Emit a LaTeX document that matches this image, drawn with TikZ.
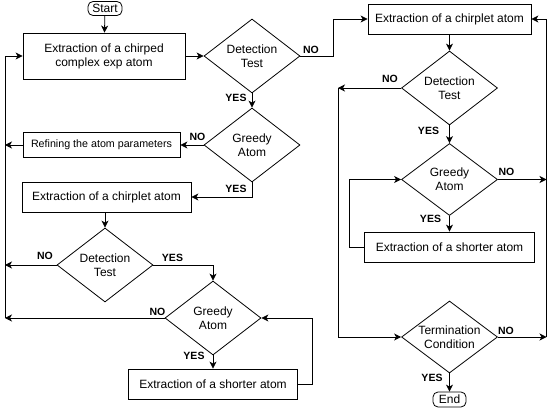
\documentclass[tikz,border=0pt]{standalone}
\usepackage{fontspec}
\setmainfont{Liberation Sans}
\usetikzlibrary{shapes.geometric,arrows.meta}

\begin{document}
\begin{tikzpicture}[x=1pt, y=-1pt, line width=0.8pt,
    procbox/.style={draw, rectangle, align=center, inner sep=0pt, minimum height=30pt, font=\fontsize{12}{14}\selectfont},
    testdiamond/.style={draw, diamond, aspect=1.3, inner sep=0pt, align=center, minimum width=96pt, minimum height=74pt, font=\fontsize{12}{14}\selectfont},
    terminal/.style={draw, rounded corners=5pt, inner sep=0pt, minimum height=14pt, minimum width=34pt, font=\fontsize{12}{14}\selectfont},
    answer/.style={inner sep=0pt, font=\fontsize{10.5}{12}\selectfont\bfseries},
    flow/.style={-{Stealth[length=7pt,width=7pt,inset=2pt]}}]
\useasboundingbox (0,0) rectangle (547,412);
\begin{scope}
\node[terminal] (start) at (105,8.5) {Start};
\node[procbox, minimum width=162pt, minimum height=46pt] (cplx) at (104,56) {Extraction of a chirped\\complex exp atom};
\node[testdiamond] (det1) at (252,56) {Detection\\Test};
\node[testdiamond] (greedy1) at (252,145) {Greedy\\Atom};
\node[procbox, minimum width=157pt, minimum height=25pt, font=\fontsize{10.7}{12}\selectfont] (refine) at (101.5,145) {Refining the atom parameters};
\node[procbox, minimum width=169pt] (chirp1) at (106.5,197) {Extraction of a chirplet atom};
\node[testdiamond] (det2) at (105,265) {Detection\\Test};
\node[testdiamond] (greedy2) at (213,318) {Greedy\\Atom};
\node[procbox, minimum width=169pt] (short1) at (213,384) {Extraction of a shorter atom};
\node[procbox, minimum width=163pt] (chirp2) at (449.5,19) {Extraction of a chirplet atom};
\node[testdiamond] (det3) at (449.5,88) {Detection\\Test};
\node[testdiamond, minimum height=72pt] (greedy3) at (449.5,179.5) {Greedy\\Atom};
\node[procbox, minimum width=170pt] (short2) at (449.5,247) {Extraction of a shorter atom};
\node[testdiamond, minimum height=72pt] (term) at (449.5,337) {Termination\\Condition};
\node[terminal, minimum height=15pt, minimum width=33pt] (end) at (449.5,399.5) {End};
\coordinate (lbustop) at (5,56);
\coordinate (lbusbot) at (5,318);
\coordinate (ibustop) at (338,88);
\coordinate (ibusbot) at (338,337);
\coordinate (rbustop) at (546.5,19);
\coordinate (rbusbot) at (546.5,337);
\node[answer] (yes1) at (236,97.5) {YES};
\node[answer] (no1) at (311,49.5) {NO};
\node[answer] (no2) at (197.5,136.5) {NO};
\node[answer] (yes2) at (236,189) {YES};
\node[answer] (no3) at (45,255.5) {NO};
\node[answer] (yes3) at (172.5,258) {YES};
\node[answer] (no4) at (157.5,312) {NO};
\node[answer] (yes4) at (194,356) {YES};
\node[answer] (no5) at (390,79) {NO};
\node[answer] (yes5) at (428.5,131) {YES};
\node[answer] (no6) at (506.5,172) {NO};
\node[answer] (yes6) at (430.5,219) {YES};
\node[answer] (no7) at (506,330.5) {NO};
\node[answer] (yes7) at (432,377.5) {YES};
\draw[flow] (start) -- (cplx);
\draw[flow] (cplx) -- (det1);
\draw[flow] (det1) -- (greedy1);
\draw[flow] (det1.east) -- ++(33,0) |- (chirp2.west);
\draw[flow] (greedy1.west) -- (refine.east);
\draw[flow] (refine.west) -- (refine.west -| lbustop);
\draw[flow] (lbusbot) -- (lbustop) -- (cplx.west);
\draw[flow] (greedy1.south) |- (chirp1.east);
\draw[flow] (chirp1.south -| det2) -- (det2.north);
\draw[flow] (det2.west) -- (det2.west -| lbustop);
\draw[flow] (det2.east) -| (greedy2.north);
\draw[flow] (greedy2.west) -- (lbusbot);
\draw[flow] (greedy2) -- (short1);
\draw[flow] (short1.east) -- ++(14,0) |- (greedy2.east);
\draw[flow] (chirp2) -- (det3);
\draw[flow] (det3.west) -- (ibustop);
\draw[flow] (ibustop) -- (ibusbot) -- (term.west);
\draw[flow] (det3) -- (greedy3);
\draw[flow] (greedy3.east) -- (greedy3.east -| rbustop);
\draw[flow] (greedy3) -- (short2);
\draw[flow] (short2.west) -- ++(-15,0) |- (greedy3.west);
\draw[flow] (term.east) -- (term.east -| rbustop);
\draw[flow] (rbusbot) -- (rbustop) -- (chirp2.east);
\draw[flow] (term) -- (end);
\end{scope}
\end{tikzpicture}
\end{document}
